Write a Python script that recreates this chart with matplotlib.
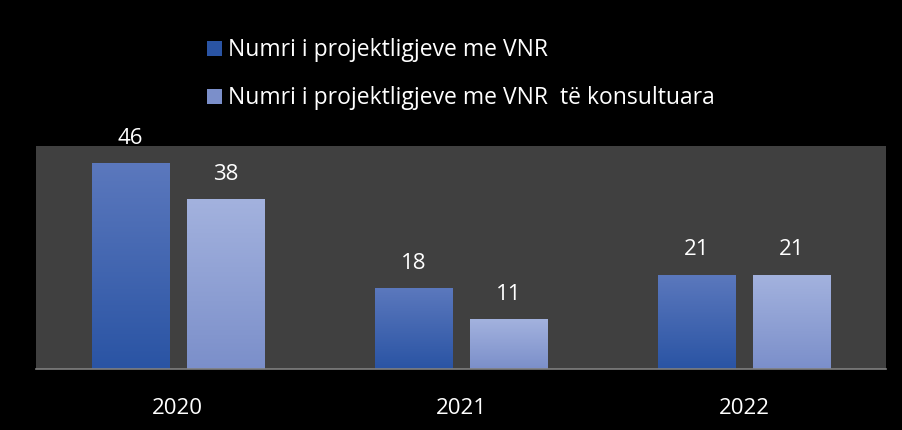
import matplotlib.pyplot as plt
import matplotlib.patches as mpatches
import numpy as np

# data
years = ["2020", "2021", "2022"]
vnr = [46, 18, 21]
consulted = [38, 11, 21]
labels = ["Numri i projektligjeve me VNR", "Numri i projektligjeve me VNR  të konsultuara"]

# gradient colours (top, bottom)
dark_cols = ("#5b78bd", "#2a54a4")
light_cols = ("#a3b2de", "#7b8fca")

plt.rcParams['font.family'] = ['Open Sans', 'DejaVu Sans']

fig = plt.figure(figsize=(9.02, 4.31), dpi=100, facecolor="black")
ax = fig.add_axes([36/902, 1 - 370/431, 850/902, 223/431])
ax.set_facecolor("#404040")

x = np.arange(len(years))
width = 0.272
gap = 0.064


def grad_bar(ax, xc, h, cols):
    top = np.array(plt.matplotlib.colors.to_rgb(cols[0]))
    bot = np.array(plt.matplotlib.colors.to_rgb(cols[1]))
    t = np.linspace(0, 1, 100)[:, None]
    img = (top * (1 - t) + bot * t)[:, None, :]
    ax.imshow(img, extent=(xc - width/2, xc + width/2, 0, h), aspect="auto", origin="upper", zorder=2)
    ax.annotate(str(h), (xc, h), xytext=(0, 19), textcoords="offset points",
                ha="center", va="center", color="white", fontsize=16)


for i in range(len(years)):
    grad_bar(ax, x[i] - (width + gap)/2, vnr[i], dark_cols)
    grad_bar(ax, x[i] + (width + gap)/2, consulted[i], light_cols)

ax.set_xlim(-0.5, 2.5)
ax.set_ylim(0, 50)
ax.set_yticks([])
ax.set_xticks(x)
ax.set_xticklabels(years, color="white", fontsize=16)
ax.tick_params(axis="x", length=0, pad=20)
for s in ["top", "left", "right"]:
    ax.spines[s].set_visible(False)
ax.spines["bottom"].set_color("#808080")
ax.spines["bottom"].set_linewidth(1.2)

# legend drawn by hand
for yy, c, lab in [(50, dark_cols, labels[0]), (98, light_cols, labels[1])]:
    fig.patches.append(mpatches.Rectangle((207/902, 1 - (yy + 7)/431), 15/902, 15/431,
                                          transform=fig.transFigure, facecolor=c[1], edgecolor="none"))
    fig.text(228/902, 1 - yy/431, lab, color="white", fontsize=16.5, va="center", ha="left")

fig.savefig("out.png", dpi=100, facecolor="black")
